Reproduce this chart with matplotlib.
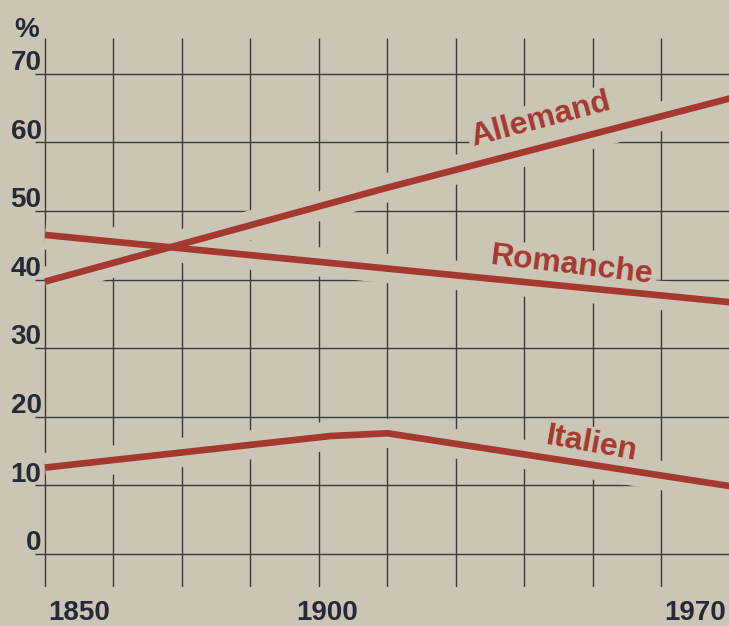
import numpy as np
import matplotlib.pyplot as plt

# valeurs (%)
years_all = [1850, 1910, 1970]
allemand = [39.7, 53.4, 66.4]
years_rom = [1850, 1970]
romanche = [46.5, 36.7]
years_it = [1850, 1900, 1910, 1970]
italien = [12.6, 17.2, 17.6, 9.9]

yticks = [0, 10, 20, 30, 40, 50, 60, 70]
xticks = [1850, 1900, 1970]
xtick_ha = ['left', 'center', 'right']

bg = '#cbc5b6'
red = '#a5392f'
ink = '#262a36'
grid = '#3a3a3a'

plt.rcParams['font.family'] = ['Liberation Sans', 'DejaVu Sans']

fig = plt.figure(figsize=(7.29, 6.26), dpi=100, facecolor=bg)
ax = fig.add_axes([35 / 729, 1 - 587 / 626, 695 / 729, 549 / 626])
ax.set_facecolor(bg)
ax.set_xlim(1848.25, 1970)
ax.set_ylim(-4.8, 75.2)
ax.axis('off')

# quadrillage
ax.hlines(yticks, 1848.25, 1970, color=grid, lw=1.0, zorder=1)
ax.vlines(np.arange(1850, 1971, 12), -4.8, 75.2, color=grid, lw=1.0, zorder=1)

# courbes avec un halo couleur papier qui coupe le quadrillage
series = [(years_all, allemand), (years_rom, romanche), (years_it, italien)]
for xs, ys in series:
    ax.plot(xs, ys, color=bg, lw=21, solid_capstyle='butt', zorder=2)
for xs, ys in series:
    ax.plot(xs, ys, color=red, lw=4.8, solid_capstyle='butt', zorder=4)

# étiquettes sous les courbes rouges, mais au-dessus du quadrillage
box = dict(facecolor=bg, edgecolor='none', pad=2)
lab = dict(color=red, fontsize=23, fontweight='bold', ha='center', va='baseline',
           rotation_mode='anchor', zorder=3, bbox=box)
ax.text(1937.2, 62.1, 'Allemand', rotation=14.9, **lab)
ax.text(1942.2, 40.8, 'Romanche', rotation=-6.8, **lab)
ax.text(1945.5, 14.8, 'Italien', rotation=-10.2, **lab)

# graduations
for v in yticks:
    ax.text(1849.4, v + 0.55, str(v), ha='right', va='baseline', fontsize=20,
            fontweight='bold', color=ink, clip_on=False)
ax.text(1846.7, 75.4, '%', ha='center', va='baseline', fontsize=20,
        fontweight='bold', color=ink, clip_on=False)
for yr, ha in zip(xticks, xtick_ha):
    x = yr + (0.5 if ha == 'left' else -0.7 if ha == 'right' else -0.6)
    ax.text(x, -9.6, str(yr), ha=ha, va='baseline', fontsize=20,
            fontweight='bold', color=ink, clip_on=False)

fig.savefig('out.png', dpi=100, facecolor=bg)
